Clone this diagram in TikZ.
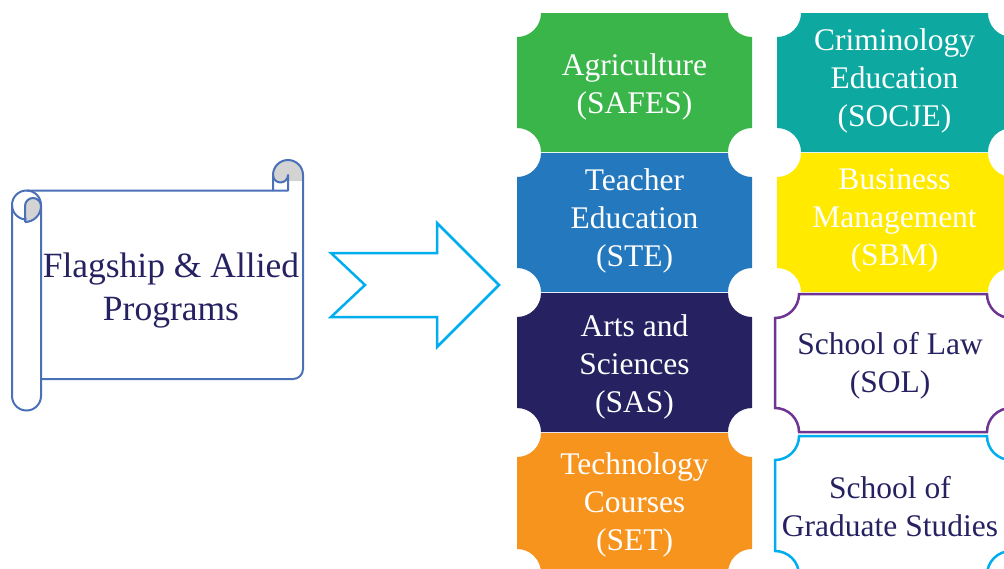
\documentclass[tikz,border=0pt]{standalone}
\usepackage{fontspec}
\setmainfont{Liberation Serif}
\usepackage{tikz}
\definecolor{agrigreen}{HTML}{39B54A}
\definecolor{teachblue}{HTML}{2478BE}
\definecolor{artsnavy}{HTML}{262262}
\definecolor{techorange}{HTML}{F7941D}
\definecolor{crimteal}{HTML}{0DA9A0}
\definecolor{busyellow}{HTML}{FFEA00}
\definecolor{lawpurple}{HTML}{6E3594}
\definecolor{gradcyan}{HTML}{00AEEF}
\definecolor{scrollblue}{HTML}{4A70B8}
\definecolor{scrollgray}{HTML}{D3D3D3}
\tikzstyle{lightword} = [text=white, align=center, font=\fontsize{31.5}{38}\selectfont]
\tikzstyle{darkword} = [text=artsnavy, align=center, font=\fontsize{31.5}{38}\selectfont]
\tikzstyle{scroll} = [draw=scrollblue, line width=2pt, line join=round]
\tikzstyle{chevron} = [draw=gradcyan, line width=2.5pt, line join=miter]
% ticket with hollow corners: x1, y1, x2, y2, options
\newcommand{\ticket}[5]{%
  \path[#5] (#1+24,#2) -- (#3-24,#2) arc[start angle=180,end angle=90,radius=24]
    -- (#3,#4-24) arc[start angle=270,end angle=180,radius=24]
    -- (#1+24,#4) arc[start angle=0,end angle=-90,radius=24]
    -- (#1,#2+24) arc[start angle=90,end angle=0,radius=24] -- cycle;}

\begin{document}
\begin{tikzpicture}[x=1pt,y=-1pt]
	  \useasboundingbox (0,0) rectangle (1004,568);
	  \clip (0,0) rectangle (1004,568);

	  % scroll
	  \fill[scrollgray] (273,175) arc[start angle=180,end angle=360,radius=15] -- (303,181) -- (288,181) -- (288,175) arc[start angle=0,end angle=180,radius=7.5] -- cycle;
	  \fill[scrollgray] (25,222) -- (25,206) arc[start angle=180,end angle=360,radius=8] arc[start angle=0,end angle=90,radius=16] -- cycle;
	  \draw[scroll] (41,379) -- (293,379) arc[start angle=90,end angle=0,radius=10] -- (303,175) arc[start angle=0,end angle=-180,radius=15] -- (273,191);
	  \draw[scroll] (26.5,190.5) -- (288,190.5) -- (288,175) arc[start angle=0,end angle=180,radius=7.5];
	  \draw[scroll] (26.5,219.5) arc[start angle=90,end angle=360,radius=14.5];
	  \draw[scroll] (25,222) -- (25,206) arc[start angle=180,end angle=360,radius=8] arc[start angle=0,end angle=90,radius=16];
	  \draw[scroll] (12,205) -- (12,396) arc[start angle=180,end angle=0,radius=14.5] -- (41,205);
	  \node (flag) at (171,291) [darkword, font=\fontsize{35.5}{43}\selectfont] {Flagship \& Allied\\Programs};

	  % arrow
	  \draw[chevron] (331,253) -- (365,285) -- (331,317) -- (437,317) -- (437,347) -- (499,285) -- (437,223) -- (437,253) -- cycle;

	  % tickets
	  \ticket{517}{13}{752}{152}{fill=agrigreen}
	  \ticket{517}{153}{752}{292}{fill=teachblue}
	  \ticket{517}{293}{752}{432}{fill=artsnavy}
	  \ticket{517}{433}{752}{573}{fill=techorange}
	  \ticket{777}{13}{1012}{152}{fill=crimteal}
	  \ticket{777}{153}{1012}{292}{fill=busyellow}
	  \ticket{775}{294}{1011}{432}{draw=lawpurple, line width=2.5pt}
	  \ticket{775}{436}{1011}{575}{draw=gradcyan, line width=2.5pt}

	  \node (agri) at (634.5,87) [lightword] {Agriculture\\(SAFES)};
	  \node (teach) at (634.5,220.5) [lightword] {Teacher\\Education\\(STE)};
	  \node (arts) at (634.5,366.5) [lightword] {Arts and\\Sciences\\(SAS)};
	  \node (tech) at (634.5,504.5) [lightword] {Technology\\Courses\\(SET)};
	  \node (crim) at (894.5,80.5) [lightword] {Criminology\\Education\\(SOCJE)};
	  \node (bus) at (894.5,220.5) [lightword] {Business\\Management\\(SBM)};
	  \node (law) at (890,365.5) [darkword] {School of Law\\(SOL)};
	  \node (grad) at (890,506.5) [darkword] {School of\\Graduate Studies};
	\end{tikzpicture}
\end{document}
